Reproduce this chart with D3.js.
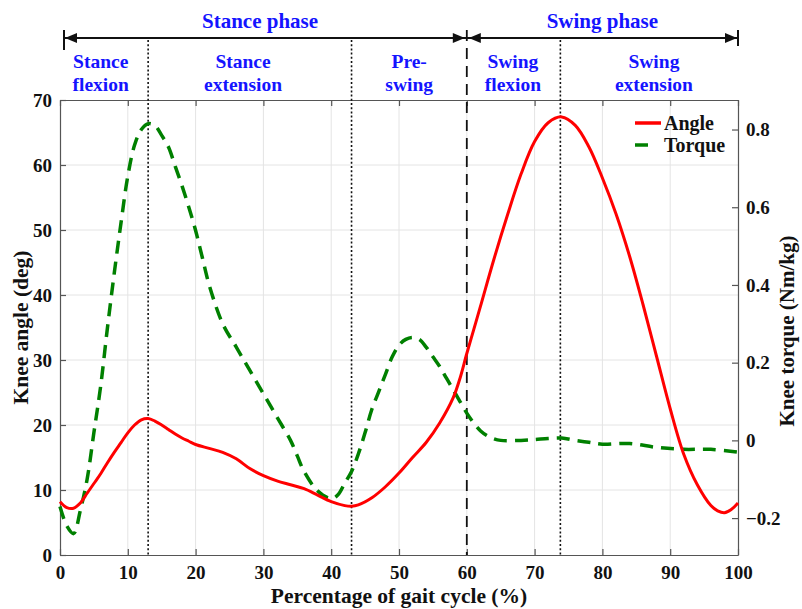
<!DOCTYPE html>
<html>
<head>
<meta charset="utf-8">
<script src="https://cdn.jsdelivr.net/npm/d3@7"></script>
<style>
  body { margin: 0; background: #fff; }
  text { font-family: "Liberation Serif", "Times New Roman", serif; font-weight: bold; }
</style>
</head>
<body>
<svg id="chart" width="802" height="609"></svg>
<script>
// knee angle (deg) over the gait cycle
const anglePct = [0, 1, 2, 3, 4, 5, 6, 7, 8, 9, 10, 11, 12, 13, 14, 15, 16, 17, 18, 19, 20, 22, 24, 26, 28, 30, 32, 34, 36, 38, 40, 42, 43, 44, 46, 48, 50, 52, 54, 56, 58, 59, 60, 61, 62, 64, 66, 68, 70, 72, 74, 76, 78, 80, 82, 84, 86, 88, 90, 92, 94, 96, 97, 98, 99, 100];
const angleDeg = [8.2, 7.3, 7.2, 8, 9.5, 11, 12.5, 14.2, 15.8, 17.3, 18.8, 20, 20.8, 21, 20.6, 20, 19.3, 18.6, 18, 17.5, 17, 16.4, 15.8, 14.8, 13.3, 12.2, 11.4, 10.8, 10.2, 9.2, 8.2, 7.6, 7.5, 7.7, 8.8, 10.5, 12.6, 15, 17.3, 20.3, 24.2, 27.2, 31, 34.6, 38.2, 45.5, 52.3, 58.6, 63.6, 66.5, 67.4, 66.1, 62.8, 58, 52.5, 46, 38.5, 30.5, 22.5, 15.5, 10.8, 7.6, 6.8, 6.5, 7, 8];

// knee torque (Nm/kg) over the gait cycle
const torquePct = [0, 1, 2, 3, 4, 5, 6, 7, 8, 9, 10, 11, 12, 13, 14, 15, 16, 17, 18, 19, 20, 21, 22, 24, 26, 28, 30, 32, 34, 35, 36, 38, 40, 41, 42, 43, 44, 45, 46, 47, 48, 49, 50, 51, 52, 53, 54, 55, 56, 57, 58, 59, 60, 61, 62, 63, 64, 65, 68, 70, 72, 74, 76, 78, 80, 84, 88, 92, 96, 100];
const torqueVal = [-0.17, -0.22, -0.24, -0.18, -0.1, 0.02, 0.14, 0.29, 0.43, 0.56, 0.68, 0.76, 0.8, 0.815, 0.81, 0.785, 0.755, 0.705, 0.655, 0.6, 0.54, 0.47, 0.4, 0.3, 0.24, 0.18, 0.12, 0.06, 0.0, -0.04, -0.08, -0.13, -0.15, -0.14, -0.11, -0.08, -0.035, 0.02, 0.08, 0.125, 0.17, 0.215, 0.245, 0.26, 0.265, 0.26, 0.24, 0.215, 0.19, 0.16, 0.13, 0.1, 0.07, 0.045, 0.025, 0.012, 0.004, 0.0, 0.0, 0.002, 0.005, 0.006, 0.0, -0.005, -0.01, -0.008, -0.018, -0.023, -0.023, -0.03];

const xTicks = [0, 10, 20, 30, 40, 50, 60, 70, 80, 90, 100];
const angleTicks = [0, 10, 20, 30, 40, 50, 60, 70];
const torqueTicks = [-0.2, 0, 0.2, 0.4, 0.6, 0.8];

// phase boundaries (% of gait cycle)
const subPhaseLines = [13, 43, 73.8];
const phaseSplit = 60;
const phaseNames = ["Stance phase", "Swing phase"];
const phaseCenters = [29.5, 80];
const subPhaseNames = [["Stance", "flexion"], ["Stance", "extension"], ["Pre-", "swing"], ["Swing", "flexion"], ["Swing", "extension"]];
const subPhaseCenters = [6, 27, 51.5, 66.8, 87.6];

const margin = { top: 100, right: 64, bottom: 54, left: 60 };
const width = 802, height = 609;
const blue = "#1414ff";

const svg = d3.select("#chart");

const x = d3.scaleLinear().domain([0, 100]).range([margin.left, width - margin.right]);
const yA = d3.scaleLinear().domain([0, 70]).range([height - margin.bottom, margin.top]);
const yT = d3.scaleLinear().domain([-0.295, 0.876]).range([height - margin.bottom, margin.top]);

// grid
svg.append("g")
  .attr("stroke", "#e4e4e4")
  .attr("stroke-width", 1)
  .call(g => g.selectAll("line.vx").data(xTicks.slice(1, -1)).join("line")
    .attr("x1", d => x(d)).attr("x2", d => x(d))
    .attr("y1", yA(0)).attr("y2", yA(70)))
  .call(g => g.selectAll("line.hy").data(angleTicks.slice(1, -1)).join("line")
    .attr("class", "hy")
    .attr("x1", x(0)).attr("x2", x(100))
    .attr("y1", d => yA(d)).attr("y2", d => yA(d)));

// axes, MATLAB style: ticks pointing inward
const axisColor = "#555";
function styleAxis(g) {
  g.select(".domain").attr("stroke", axisColor).attr("stroke-width", 1.2);
  g.selectAll(".tick line").attr("stroke", axisColor).attr("stroke-width", 1.2);
  g.selectAll(".tick text").attr("fill", "#111").attr("font-size", 19)
    .attr("font-family", "Liberation Serif, serif").attr("font-weight", "bold");
}

svg.append("g")
  .attr("transform", `translate(0,${yA(0)})`)
  .call(d3.axisBottom(x).tickValues(xTicks).tickSizeInner(-6).tickSizeOuter(0).tickPadding(11))
  .call(styleAxis);

svg.append("g")
  .attr("transform", `translate(0,${yA(70)})`)
  .call(d3.axisTop(x).tickValues(xTicks).tickSizeInner(-6).tickSizeOuter(0).tickFormat(""))
  .call(styleAxis);

svg.append("g")
  .attr("transform", `translate(${x(0)},0)`)
  .call(d3.axisLeft(yA).tickValues(angleTicks).tickSizeInner(-6).tickSizeOuter(0).tickPadding(8))
  .call(styleAxis);

svg.append("g")
  .attr("transform", `translate(${x(100)},0)`)
  .call(d3.axisRight(yT).tickValues(torqueTicks).tickSizeInner(-6).tickSizeOuter(0).tickPadding(8)
    .tickFormat(d => d === 0 ? "0" : d3.format(".1f")(d)))
  .call(styleAxis);

// axis titles
svg.append("text")
  .attr("x", (x(0) + x(100)) / 2).attr("y", 603)
  .attr("text-anchor", "middle").attr("font-size", 21.5).attr("fill", "#111")
  .text("Percentage of gait cycle (%)");

svg.append("text")
  .attr("transform", `translate(28,${(yA(0) + yA(70)) / 2}) rotate(-90)`)
  .attr("text-anchor", "middle").attr("font-size", 21.5).attr("fill", "#111")
  .text("Knee angle (deg)");

svg.append("text")
  .attr("transform", `translate(794,331) rotate(-90)`)
  .attr("text-anchor", "middle").attr("font-size", 21).attr("fill", "#111")
  .text("Knee torque (Nm/kg)");

// phase separators
svg.append("g")
  .attr("stroke", "#111").attr("stroke-width", 1.6).attr("stroke-dasharray", "2,2.2")
  .selectAll("line").data(subPhaseLines).join("line")
  .attr("x1", d => x(d)).attr("x2", d => x(d))
  .attr("y1", 40).attr("y2", yA(0));

svg.append("line")
  .attr("x1", x(phaseSplit)).attr("x2", x(phaseSplit))
  .attr("y1", 30).attr("y2", yA(0))
  .attr("stroke", "#111").attr("stroke-width", 1.8).attr("stroke-dasharray", "11,7");

// curves
const angleLine = d3.line()
  .x((d, i) => x(anglePct[i]))
  .y(d => yA(d))
  .curve(d3.curveCatmullRom.alpha(0.5));

const torqueLine = d3.line()
  .x((d, i) => x(torquePct[i]))
  .y(d => yT(d))
  .curve(d3.curveCatmullRom.alpha(0.5));

svg.append("path")
  .attr("d", torqueLine(torqueVal))
  .attr("fill", "none").attr("stroke", "#008000").attr("stroke-width", 3.5)
  .attr("stroke-dasharray", "13,8");

svg.append("path")
  .attr("d", angleLine(angleDeg))
  .attr("fill", "none").attr("stroke", "#ff0000").attr("stroke-width", 3);

// phase arrows across the top
const arrowY = 38;
const arrows = svg.append("g").attr("stroke", "#111").attr("fill", "#111");
arrows.append("line")
  .attr("x1", x(0) + 4).attr("x2", x(100))
  .attr("y1", arrowY).attr("y2", arrowY).attr("stroke-width", 1.8);
arrows.append("line").attr("x1", x(0) + 4).attr("x2", x(0) + 4).attr("y1", 30).attr("y2", 50).attr("stroke-width", 2);
arrows.append("line").attr("x1", x(100)).attr("x2", x(100)).attr("y1", 30).attr("y2", 46).attr("stroke-width", 2);

function head(tip, dir) {
  arrows.append("path")
    .attr("stroke", "none")
    .attr("d", `M${tip},${arrowY} L${tip - dir * 12},${arrowY - 5} L${tip - dir * 12},${arrowY + 5} Z`);
}
head(x(0) + 5, -1);
head(x(phaseSplit) - 2, 1);
head(x(phaseSplit) + 2, -1);
head(x(100) - 1, 1);

svg.append("g")
  .selectAll("text").data(phaseNames).join("text")
  .attr("x", (d, i) => x(phaseCenters[i])).attr("y", 28)
  .attr("text-anchor", "middle").attr("font-size", 21).attr("fill", blue)
  .text(d => d);

const sub = svg.append("g")
  .selectAll("text").data(subPhaseNames).join("text")
  .attr("text-anchor", "middle").attr("font-size", 19.5).attr("fill", blue);
sub.append("tspan").attr("x", (d, i) => x(subPhaseCenters[i])).attr("y", 68).text(d => d[0]);
sub.append("tspan").attr("x", (d, i) => x(subPhaseCenters[i])).attr("y", 91).text(d => d[1]);

// legend
const legendItems = [
  { name: "Angle", color: "#ff0000", len: 26 },
  { name: "Torque", color: "#008000", len: 13 }
];
const legend = svg.append("g").attr("transform", "translate(635,123)");
const item = legend.selectAll("g").data(legendItems).join("g")
  .attr("transform", (d, i) => `translate(0,${i * 22})`);
item.append("line")
  .attr("x1", 0).attr("x2", d => d.len).attr("y1", 0).attr("y2", 0)
  .attr("stroke", d => d.color).attr("stroke-width", 3.5);
item.append("text")
  .attr("x", 29).attr("y", 6.5).attr("font-size", 20).attr("fill", "#111")
  .text(d => d.name);
</script>
</body>
</html>
